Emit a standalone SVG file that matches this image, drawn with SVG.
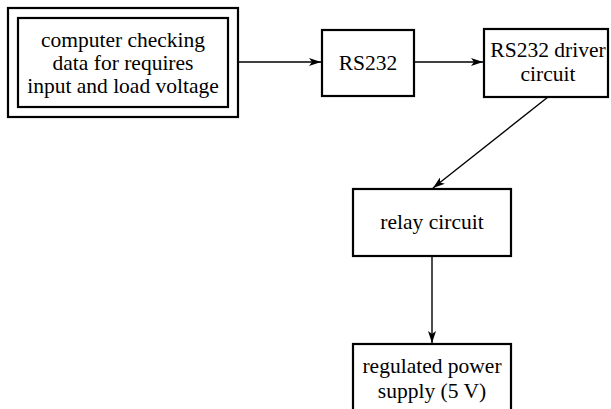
<svg xmlns="http://www.w3.org/2000/svg" width="611" height="409" viewBox="0 0 611 409">
<defs>
<marker id="ah" viewBox="0 0 12 8" refX="12" refY="4" markerWidth="12" markerHeight="8" markerUnits="userSpaceOnUse" orient="auto">
<path d="M0,0 L12,4 L0,8 L3,4 Z" fill="#000"/>
</marker>
<style>
.box{fill:#fff;stroke:#000;stroke-width:2.2}
.t{font-family:"Liberation Serif","Times New Roman",serif;font-size:21.5px;text-anchor:middle;fill:#000}
.c{stroke:#000;stroke-width:1.4;fill:none;marker-end:url(#ah)}
</style>
</defs>
<rect width="611" height="409" fill="#fff"/>
<g id="computer">
<rect class="box" x="8" y="8" width="230" height="109"/>
<rect class="box" x="18" y="18" width="210" height="89"/>
<text class="t" x="123" y="47">computer checking</text>
<text class="t" x="123" y="70">data for requires</text>
<text class="t" x="123" y="93">input and load voltage</text>
</g>
<g id="rs232">
<rect class="box" x="322" y="30" width="92" height="66"/>
<text class="t" x="368" y="70">RS232</text>
</g>
<g id="driver">
<rect class="box" x="484" y="29" width="124" height="68"/>
<text class="t" x="548" y="57">RS232 driver</text>
<text class="t" x="548" y="81">circuit</text>
</g>
<g id="relay">
<rect class="box" x="353" y="189" width="158" height="67"/>
<text class="t" x="432" y="229">relay circuit</text>
</g>
<g id="power">
<rect class="box" x="353" y="344" width="158" height="70"/>
<text class="t" x="432" y="373">regulated power</text>
<text class="t" x="432" y="398">supply (5 V)</text>
</g>
<g id="connectors">
<line class="c" x1="238" y1="62" x2="321" y2="62"/>
<line class="c" x1="414" y1="62" x2="483" y2="62"/>
<line class="c" x1="548" y1="97" x2="433" y2="188"/>
<line class="c" x1="432" y1="256" x2="432" y2="343"/>
</g>
</svg>
